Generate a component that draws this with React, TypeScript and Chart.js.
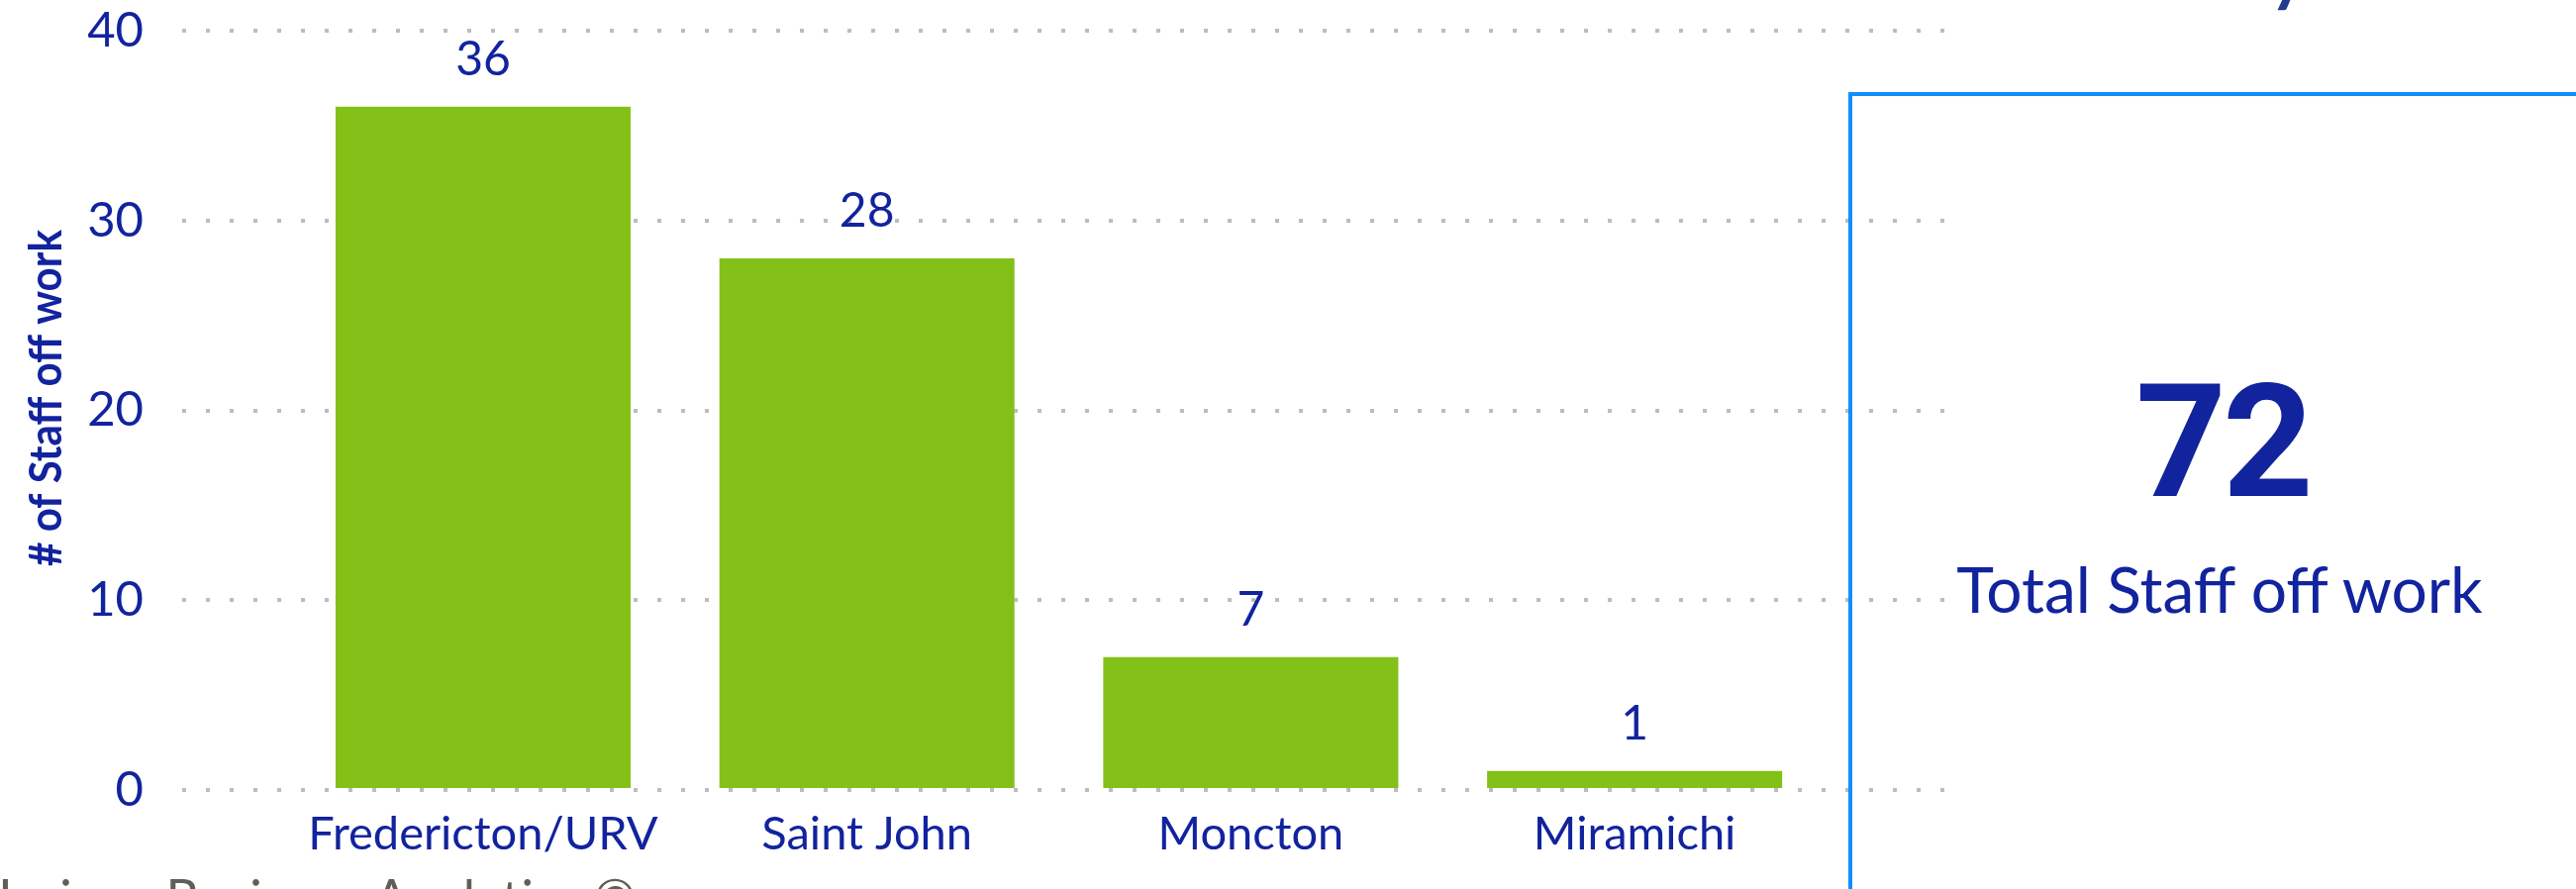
import React, { useEffect, useRef } from 'react';
import { Chart, registerables } from 'chart.js';

Chart.register(...registerables);

// ---- data ----
const categories = ['Fredericton/URV', 'Saint John', 'Moncton', 'Miramichi'];
const categoryPositions = [1, 2, 3, 4];
const staffOff = [36, 28, 7, 1];
const yTicks = [0, 10, 20, 30, 40];
const yTitle = '# of Staff off work';
const totalValue = 72;
const totalLabel = 'Total Staff off work';
const cardTitle = 'Today';
const footerText = 'Horizon Business Analytics ©';

// ---- styles ----
const navy = '#12239E';
const barGreen = '#84C118';
const gridGray = '#BDBDBD';
const cardBlue = '#118DFF';
const textFont = 'Lato, "Noto Sans", sans-serif';

const valueLabels = {
  id: 'valueLabels',
  afterDatasetsDraw(chart: any) {
    const ctx = chart.ctx;
    const meta = chart.getDatasetMeta(0);
    ctx.save();
    ctx.font = `48px ${textFont}`;
    ctx.fillStyle = navy;
    ctx.textAlign = 'center';
    ctx.textBaseline = 'alphabetic';
    meta.data.forEach((bar: any, i: number) => {
      ctx.fillText(String(staffOff[i]), bar.x, bar.y - 32);
    });
    ctx.restore();
  },
};

// y-axis title drawn condensed, centred on the axis
const axisTitle = {
  id: 'axisTitle',
  afterDraw(chart: any) {
    const ctx = chart.ctx;
    ctx.save();
    ctx.font = `bold 46px ${textFont}`;
    ctx.fillStyle = navy;
    ctx.textAlign = 'center';
    ctx.textBaseline = 'alphabetic';
    const w = ctx.measureText(yTitle).width;
    ctx.translate(62, 402);
    ctx.rotate(-Math.PI / 2);
    ctx.scale(340 / w, 1);
    ctx.fillText(yTitle, 0, 0);
    ctx.restore();
  },
};

export default function App() {
  const ref = useRef<HTMLCanvasElement>(null);

  useEffect(() => {
    if (!ref.current) return;
    const chart = new Chart(ref.current, {
      type: 'bar',
      data: {
        datasets: [
          {
            data: categoryPositions.map((x, i) => ({ x, y: staffOff[i] })),
            backgroundColor: barGreen,
            borderWidth: 0,
            categoryPercentage: 1,
            barPercentage: 0.7687,
          },
        ],
      },
      options: {
        animation: false,
        responsive: false,
        devicePixelRatio: 1,
        layout: { padding: { top: 31, right: 638, bottom: 0, left: 0 } },
        plugins: { legend: { display: false }, tooltip: { enabled: false } },
        scales: {
          x: {
            type: 'linear',
            min: 0.216,
            max: 4.807,
            offset: false,
            grid: { display: false },
            border: { display: false },
            afterBuildTicks: (s: any) => {
              s.ticks = categoryPositions.map((v) => ({ value: v }));
            },
            afterFit: (s: any) => {
              s.height = 100;
              s.paddingLeft = 0;
              s.paddingRight = 0;
            },
            ticks: {
              autoSkip: false,
              maxRotation: 0,
              minRotation: 0,
              padding: 9,
              color: navy,
              font: { family: textFont, size: 47 },
              callback: (v: any) => categories[Math.round(Number(v)) - 1] ?? '',
            },
          },
          y: {
            type: 'linear',
            min: 0,
            max: 40,
            afterBuildTicks: (s: any) => {
              s.ticks = yTicks.map((v) => ({ value: v }));
            },
            afterFit: (s: any) => {
              s.width = 184;
              s.paddingTop = 0;
              s.paddingBottom = 0;
            },
            border: { display: false, dash: [4, 20] },
            grid: { color: gridGray, lineWidth: 4, drawTicks: false },
            ticks: {
              padding: 39,
              color: navy,
              font: { family: textFont, size: 49 },
            },
            title: { display: false },
          },
        },
      },
      plugins: [valueLabels, axisTitle],
    } as any);
    return () => chart.destroy();
  }, []);

  return (
    <div
      style={{
        position: 'fixed',
        left: 0,
        top: 0,
        width: 2602,
        height: 898,
        overflow: 'hidden',
        background: '#ffffff',
      }}
    >
      <canvas ref={ref} width={2602} height={898} style={{ position: 'absolute', left: 0, top: 0 }} />
      <div
        style={{
          position: 'absolute',
          left: 1867,
          top: 93,
          width: 800,
          height: 900,
          border: `4px solid ${cardBlue}`,
          boxSizing: 'border-box',
        }}
      />
      <div
        style={{
          position: 'absolute',
          left: 2237 - 300,
          width: 600,
          top: -64,
          textAlign: 'center',
          fontFamily: textFont,
          fontWeight: 700,
          fontSize: 70,
          lineHeight: '70px',
          color: '#1F3C8F',
          whiteSpace: 'nowrap',
        }}
      >
        {cardTitle}
      </div>
      <div
        style={{
          position: 'absolute',
          left: 2245 - 300,
          width: 600,
          top: 367,
          textAlign: 'center',
          fontFamily: 'Roboto, sans-serif',
          fontWeight: 700,
          fontSize: 160,
          lineHeight: '160px',
          letterSpacing: -4,
          color: navy,
          whiteSpace: 'nowrap',
        }}
      >
        {totalValue}
      </div>
      <div
        style={{
          position: 'absolute',
          left: 2242 - 400,
          width: 800,
          top: 563,
          textAlign: 'center',
          fontFamily: textFont,
          fontSize: 64,
          lineHeight: '64px',
          color: navy,
          whiteSpace: 'nowrap',
        }}
      >
        {totalLabel}
      </div>
      <div
        style={{
          position: 'absolute',
          left: -27,
          top: 880,
          fontFamily: textFont,
          fontSize: 52,
          lineHeight: '52px',
          color: '#605E5C',
          whiteSpace: 'nowrap',
        }}
      >
        {footerText}
      </div>
    </div>
  );
}
